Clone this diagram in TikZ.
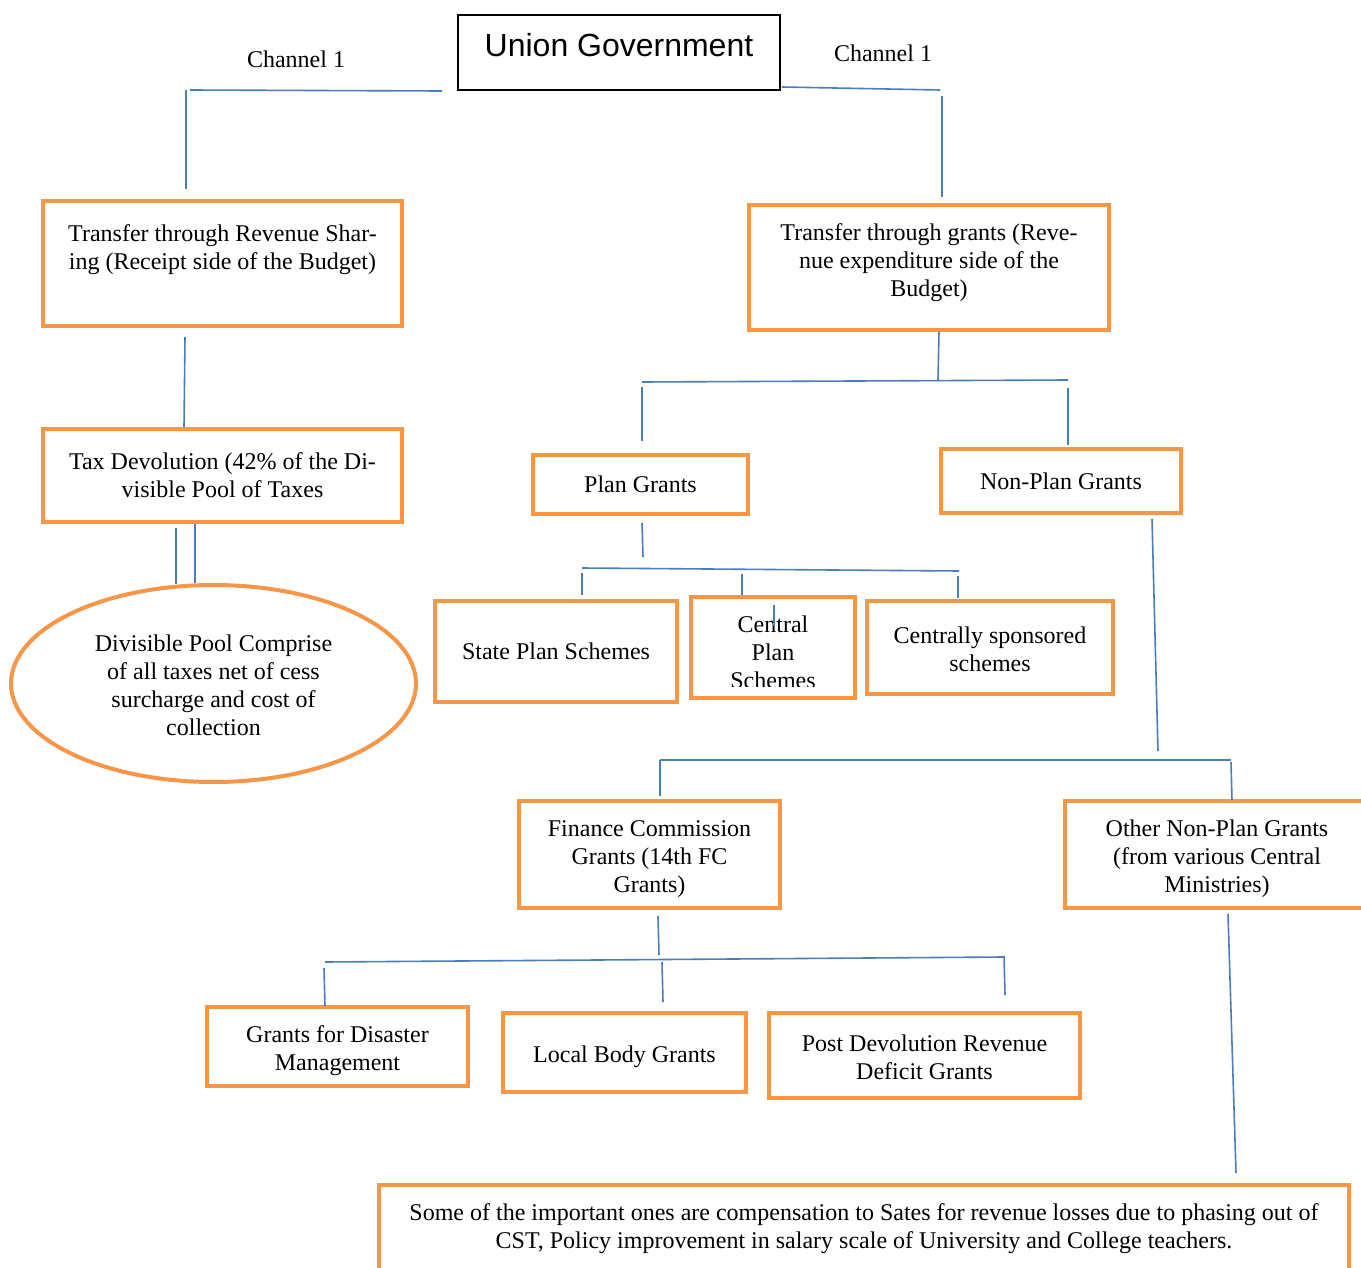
\documentclass[tikz,border=0pt]{standalone}
\usepackage{fontspec}
\setmainfont{Liberation Serif}
\newfontfamily\ugfont{Liberation Sans}
\usepackage{xcolor}
\usetikzlibrary{positioning,calc,shapes.geometric}
\definecolor{boxorange}{HTML}{F79646}
\definecolor{linkblue}{HTML}{4A7EBB}
\newcommand{\dropline}{\rule{0pt}{12.5pt}}
\newcommand{\dropless}{\rule{0pt}{10.5pt}}

\tikzset{
  box/.style={draw=boxorange, line width=2pt, align=center, inner sep=0pt, font=\fontsize{12}{14}\selectfont},
  txt/.style={align=center, inner sep=0pt, font=\fontsize{12}{14}\selectfont},
  link/.style={draw=linkblue, line width=0.8pt},
}

\begin{document}
\begin{tikzpicture}[x=0.5pt, y=-0.5pt]
    \useasboundingbox (0,0) rectangle (1361,1268);

    % top
    \node [draw, line width=1pt, minimum width=161pt, minimum height=37.5pt, inner sep=0pt] (ug) at (619,52.5) {};
    \node [txt, font=\ugfont\fontsize{16}{19}\selectfont] (ugt) at (619,45) {Union Government};
    \node [txt] (chl) at (296,59) {Channel 1};
    \node [txt] (chr) at (883,53) {Channel 1};

    % channel boxes
    \node [box, minimum width=179.5pt, minimum height=62.5pt] (rs) at (222.5,263.5) {};
    \node [txt] (rst) at (222.5,249.5) {Transfer through Revenue Shar-\\ing (Receipt side of the Budget)};
    \node [box, minimum width=180pt, minimum height=62.5pt] (gr) at (929,267.5) {};
    \node [txt] (grt) at (929,263) {Transfer through grants (Reve-\\nue expenditure side of the\\Budget)};

    \node [box, minimum width=179.5pt, minimum height=46.5pt] (td) at (222.5,475.5) {Tax Devolution (42\% of the Di-\\visible Pool of Taxes};
    \node [box, ellipse, minimum width=202.5pt, minimum height=98.5pt] (dp) at (213.5,683.5) {\dropless Divisible Pool Comprise\\of all taxes net of cess\\surcharge and cost of\\collection};

    \node [box, minimum width=107.5pt, minimum height=29.5pt] (pg) at (640.5,484.5) {Plan Grants};
    \node [box, minimum width=120pt, minimum height=32pt] (npg) at (1061,481) {Non-Plan Grants};

    % plan grants
    \node [box, minimum width=121pt, minimum height=50.5pt] (sps) at (556,651.5) {State Plan Schemes};
    \node [box, minimum width=82pt, minimum height=50.5pt] (cps) at (773,647.5) {};
    \begin{scope}
        \clip (691,597) rectangle (855,686);
        \node [txt] (cpst) at (773,652.5) {Central\\Plan\\Schemes};
    \end{scope}
    \node [box, minimum width=123pt, minimum height=46.5pt] (css) at (990,647.5) {\dropless Centrally sponsored\\schemes};

    % non-plan grants
    \node [box, minimum width=130.5pt, minimum height=53.5pt] (fc) at (649.5,854.5) {\dropline Finance Commission\\Grants (14th FC\\Grants)};
    \node [box, minimum width=152pt, minimum height=53.5pt] (onp) at (1217,854.5) {\dropline Other Non-Plan Grants\\(from various Central\\Ministries)};

    \node [box, minimum width=130.5pt, minimum height=39.5pt] (dm) at (337.5,1046.5) {\dropline Grants for Disaster\\Management};
    \node [box, minimum width=121.5pt, minimum height=39.5pt] (lb) at (624.5,1052.5) {\dropline Local Body Grants};
    \node [box, minimum width=155.5pt, minimum height=42.5pt] (pd) at (924.5,1055.5) {\dropless Post Devolution Revenue\\Deficit Grants};

    \node [box, minimum width=485pt, minimum height=45pt] (bot) at (864,1230) {};
    \node [txt] (bott) at (864,1229) {Some of the important ones are compensation to Sates for revenue losses due to phasing out of\\CST, Policy improvement in salary scale of University and College teachers.};

    % channel lines
    \coordinate (chl1) at (190,90);
    \coordinate (chl2) at (186,90);
    \coordinate (chr1) at (940,90);
    \coordinate (chr2) at (942,96);
    \draw [link] ($(ug.south west)+(-15,0)$) -- (chl1);
    \draw [link, shorten >=5pt] (chl2) -- (chl2 |- rs.north);
    \draw [link] ($(ug.south east)+(1,-4)$) -- (chr1);
    \draw [link, shorten >=3pt] (chr2) -- (chr2 |- gr.north);

    % left side
    \draw [link] ($(rs.south)+(-37.5,9)$) -- ($(td.north)+(-38.5,0)$);
    \draw [link] ($(td.south)+(-46.5,4)$) -- ($(dp.north)+(-37.5,1)$);
    \draw [link] ($(td.south)+(-27.5,0)$) -- ($(dp.north)+(-18.5,0)$);

    % grants bus
    \coordinate (b1m) at (938,380);
    \coordinate (b1l) at (642,382);
    \coordinate (b1r) at (1068,380);
    \draw [link] ($(gr.south)+(10,0)$) -- (b1m);
    \draw [link] (b1l) -- (b1r);
    \draw [link] ($(b1l)+(0,5)$) -- ($(pg.north)+(1.5,-12)$);
    \draw [link] ($(b1r)+(0,8)$) -- ($(npg.north)+(7,-2)$);

    % plan grants bus
    \coordinate (b2m) at (643,557);
    \coordinate (b2l) at (582,568);
    \coordinate (b2r) at (959,571);
    \draw [link] ($(pg.south)+(1.5,7)$) -- (b2m);
    \draw [link] (b2l) -- (b2r);
    \draw [link] ($(b2l)+(0,5)$) -- ($(sps.north)+(26,-4)$);
    \draw [link] (742,574) -- ($(cps.north)+(-31,0)$);
    \draw [link] ($(b2r)+(-1,5)$) -- ($(css.north)+(-32,-1)$);
    \draw [link] ($(cps.north)+(1,10)$) -- ($(cps.north)+(1,31)$);

    % non-plan grants bus
    \coordinate (b3m) at (1158,751);
    \coordinate (b3l) at (660,760);
    \coordinate (b3r) at (1231,760);
    \draw [link] ($(npg.south)+(91,4)$) -- (b3m);
    \draw [link] (b3l) -- (b3r);
    \draw [link] (b3l) -- ($(fc.north)+(10.5,-3)$);
    \draw [link] ($(b3r)+(0,2)$) -- ($(onp.north)+(15,1)$);

    % finance commission bus
    \coordinate (b4m) at (659,955);
    \coordinate (b4l) at (325,962);
    \coordinate (b4r) at (1004,957);
    \draw [link] ($(fc.south)+(8.5,6)$) -- (b4m);
    \draw [link] (b4l) -- (b4r);
    \draw [link] ($(b4l)+(-1,6)$) -- ($(dm.north)+(-12.5,1)$);
    \draw [link] (662,962) -- ($(lb.north)+(38.5,-9)$);
    \draw [link] ($(b4r)+(0,-1)$) -- ($(pd.north)+(80.5,-16)$);

    % other non-plan
    \draw [link] ($(onp.south)+(11,4)$) -- ($(bot.north)+(372,-10)$);

\end{tikzpicture}
\end{document}
